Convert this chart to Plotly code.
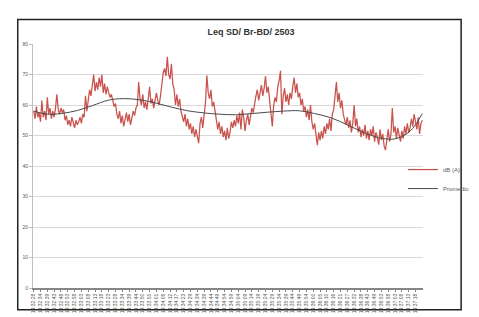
import plotly.graph_objects as go

# ---- data ----
tick_labels = [
    "14:32:28", "14:32:34", "14:32:39", "14:32:43", "14:32:48", "14:32:53", "14:32:58",
    "14:33:03", "14:33:08", "14:33:13", "14:33:18", "14:33:23", "14:33:28", "14:33:34",
    "14:33:39", "14:33:44", "14:33:50", "14:33:55", "14:34:01", "14:34:06", "14:34:12",
    "14:34:17", "14:34:23", "14:34:29", "14:34:34", "14:34:39", "14:34:44", "14:34:49",
    "14:34:54", "14:34:59", "14:35:04", "14:35:09", "14:35:14", "14:35:19", "14:35:24",
    "14:35:29", "14:35:34", "14:35:39", "14:35:44", "14:35:49", "14:35:54", "14:36:00",
    "14:36:05", "14:36:10", "14:36:16", "14:36:21", "14:36:27", "14:36:32", "14:36:38",
    "14:36:43", "14:36:49", "14:36:53", "14:36:58", "14:37:03", "14:37:08", "14:37:13",
    "14:37:18",
]
label_step = 5  # one tick label every 5 samples

db_a = [
    58, 55.5, 59.5, 56, 57.5, 54.5, 61.5, 56, 58, 55,
    62.5, 57, 59, 55.5, 58, 56, 59, 63.5, 58.5, 57,
    59, 57.5, 58.5, 55, 56.5, 53.5, 55, 53, 56, 54,
    52.5, 55, 53.5, 54.5, 56, 54, 57, 56, 63, 58,
    62, 65, 63, 67, 70, 64.5, 67.5, 65, 69, 66,
    70, 64, 67, 63.5, 66, 64, 62.5, 63.5, 61, 59.5,
    60.5, 57, 55.5, 58, 54, 56.5, 53, 55.5, 57.5, 54.5,
    57, 53.5, 56, 58, 56.5, 59, 60, 67.5, 62, 60,
    63.5, 59, 61, 58.5, 62, 66, 60.5, 62, 59, 61.5,
    64, 61.5, 60, 63, 68, 70.5, 72, 69.5, 75.8, 70,
    68.5, 73.5, 67, 65, 60, 63.5, 59.5, 62, 58, 56.5,
    54.5, 57, 53, 55.5, 52, 54, 50.5, 53, 49.5, 52,
    50, 47.5, 54, 56, 52.5, 57, 61, 69.7, 64, 62,
    65, 59.5, 61, 58, 55, 52, 54.5, 50.5, 53, 49.5,
    51.5, 48.5, 52.5, 49, 51, 54.5, 52.5, 55, 53, 56.5,
    54, 57.5, 52, 58.5, 56, 51.5, 55, 57, 53.5, 56.5,
    59, 57.5, 61, 63, 65, 61.5, 64, 66.5, 63, 65.5,
    69.5, 64, 66, 62, 57, 53, 60, 62.5, 61, 66,
    68, 71.2, 57, 63, 65.5, 61, 63.5, 60, 64, 62,
    66, 69, 64, 67, 62.5, 64, 60, 62, 58, 59.5,
    56, 58.5, 55, 60, 54.5, 52, 54, 49.5, 46.8, 51,
    48.5, 51.5, 49, 53, 50.5, 54, 52, 55.5, 51.5, 57,
    58.5, 63, 67.5, 61, 64, 59, 61.5, 57, 55, 53.5,
    56, 52.5, 55, 51, 54, 60, 53, 55.5, 51, 53,
    49.5, 52, 50, 53.5, 49, 51.5, 48.5, 52, 50, 53,
    48, 51, 49.5, 47, 52, 48.5, 50.5, 46.5, 45.2, 49,
    52, 48, 50.5, 59, 51, 53, 49, 52.5, 50, 48,
    51.5, 49, 53, 50.5, 54, 51, 52.5, 55.5, 53, 57,
    54.5, 52, 56, 50.5, 54, 55,
]

promedio_idx = [0, 10, 20, 32, 43, 55, 66, 78, 90, 101, 113, 125, 136, 148,
                160, 183, 195, 206, 218, 230, 241, 253, 265, 276, 285]
promedio_vals = [58.0, 57.0, 57.2, 58.2, 59.8, 61.6, 62.1, 61.7, 60.6, 59.3, 58.1,
                 57.4, 57.0, 56.8, 57.2, 58.0, 58.1, 57.2, 55.8, 53.5, 51.2, 49.3,
                 48.9, 51.4, 57.2]

y_ticks = [0, 10, 20, 30, 40, 50, 60, 70, 80]

# ---- figure ----
n = len(db_a)
sample_idx = list(range(n))
tick_pos = [i * label_step for i in range(len(tick_labels))]

fig = go.Figure()
fig.add_trace(go.Scatter(
    x=sample_idx, y=db_a, mode="lines", name="dB (A)",
    line=dict(color="#C9524D", width=1.25),
))
fig.add_trace(go.Scatter(
    x=promedio_idx, y=promedio_vals, mode="lines", name="Promedio",
    line=dict(color="#4a4a4a", width=1, shape="spline", smoothing=1.0),
))

W, H = 479, 317
L, R, T, B = 25, 45, 35.5, 27.7
pw, ph = W - L - R, H - T - B

def px_x(x):
    return (x - L) / pw

def px_y(y):
    return (H - B - y) / ph

fig.update_layout(
    width=W, height=H,
    margin=dict(l=L, r=R, t=T, b=B, pad=0),
    paper_bgcolor="white", plot_bgcolor="white",
    font=dict(family="Liberation Sans, Arial, sans-serif", color="#595959"),
    title=dict(
        text="<b>Leq SD/ Br-BD/ 2503</b>",
        x=243 / W, xanchor="center", y=1 - 24 / H, yanchor="middle",
        font=dict(size=9, color="#333333"),
    ),
    showlegend=True,
    legend=dict(
        x=px_x(413), xanchor="left", y=px_y(176), yanchor="middle",
        font=dict(size=6, color="#595959"), bgcolor="rgba(0,0,0,0)",
        tracegroupgap=0,
    ),
    xaxis=dict(
        range=[-0.5, n - 0.5], tickmode="array", tickvals=tick_pos, ticktext=tick_labels,
        tickangle=-90, tickfont=dict(size=5, color="#595959"),
        showgrid=False, zeroline=False, showline=True, linecolor="#868686", linewidth=1.5,
        ticks="outside", ticklen=2, tickcolor="#868686",
    ),
    yaxis=dict(
        range=[0, 80], tickmode="array", tickvals=y_ticks,
        tickfont=dict(size=5, color="#595959"),
        showgrid=True, gridcolor="#d9d9d9", gridwidth=1, zeroline=False,
        showline=True, linecolor="#bfbfbf", linewidth=1,
        ticks="outside", ticklen=3, tickcolor="#bfbfbf",
    ),
    shapes=[dict(
        type="rect", xref="paper", yref="paper",
        x0=px_x(9), x1=px_x(474), y0=px_y(312), y1=px_y(10),
        line=dict(color="#222222", width=1.5), fillcolor="rgba(0,0,0,0)", layer="below",
    )],
)

fig.write_html("out.html")
